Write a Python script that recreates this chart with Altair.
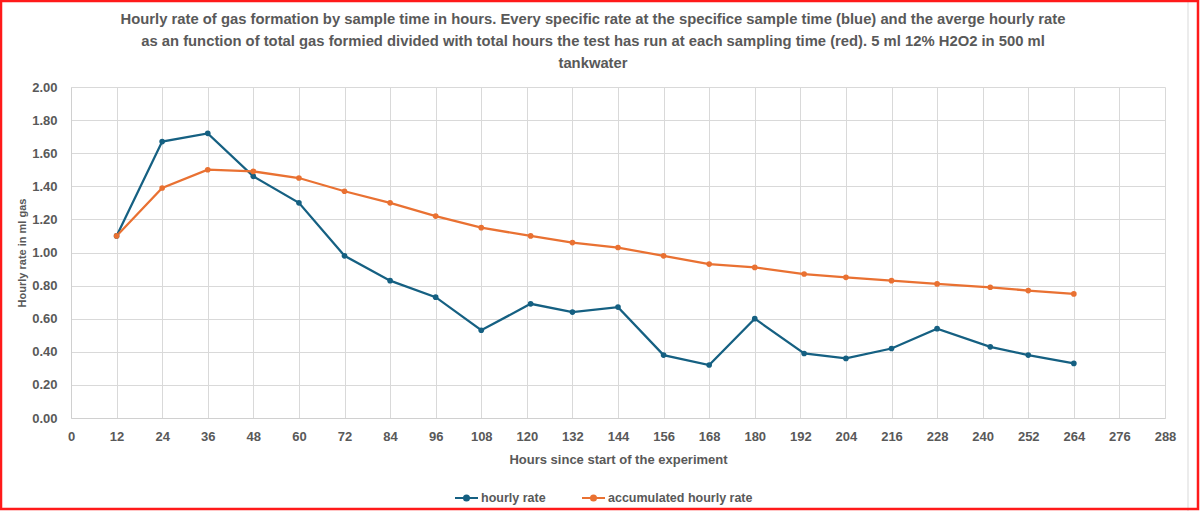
import altair as alt
import pandas as pd

# Sampling times (hours since start)
hours = [12, 24, 36, 48, 60, 72, 84, 96, 108, 121, 132, 144,
         156, 168, 180, 193, 204, 216, 228, 242, 252, 264]

# Specific hourly rate at each sample time (ml gas / h)
hourly_rate = [1.10, 1.67, 1.72, 1.46, 1.30, 0.98, 0.83, 0.73, 0.53, 0.69, 0.64, 0.67,
               0.38, 0.32, 0.60, 0.39, 0.36, 0.42, 0.54, 0.43, 0.38, 0.33]

# Total gas formed divided by total hours run (ml gas / h)
accumulated_rate = [1.10, 1.39, 1.50, 1.49, 1.45, 1.37, 1.30, 1.22, 1.15, 1.10, 1.06, 1.03,
                    0.98, 0.93, 0.91, 0.87, 0.85, 0.83, 0.81, 0.79, 0.77, 0.75]

series_names = ["hourly rate", "accumulated hourly rate"]
series_colors = ["#156082", "#E97132"]

x_ticks = list(range(0, 289, 12))
y_ticks = [0.0, 0.2, 0.4, 0.6, 0.8, 1.0, 1.2, 1.4, 1.6, 1.8, 2.0]

title_lines = [
    "Hourly rate of gas formation by sample time in hours. Every specific rate at the specifice sample time (blue)  and the averge hourly rate",
    "as an function of total gas formied divided with total hours the test has run at each sampling time (red). 5 ml 12% H2O2 in 500 ml",
    "tankwater",
]

df = pd.concat([
    pd.DataFrame({"hours": hours, "rate": hourly_rate, "series": series_names[0]}),
    pd.DataFrame({"hours": hours, "rate": accumulated_rate, "series": series_names[1]}),
])

FONT = "Liberation Sans"
GREY = "#595959"

legend_symbol = "M-1,0L1,0M-0.22,0A0.22,0.22,0,1,1,0.22,0A0.22,0.22,0,1,1,-0.22,0Z"

lines = alt.Chart(df).mark_line(
    strokeWidth=2.25,
    point=alt.OverlayMarkDef(filled=True, size=32),
).encode(
    x=alt.X("hours:Q",
            scale=alt.Scale(domain=[0, 288], nice=False),
            axis=alt.Axis(values=x_ticks, title="Hours since start of the experiment",
                          ticks=False, labelPadding=12, titlePadding=10,
                          labelFlush=False)),
    y=alt.Y("rate:Q",
            scale=alt.Scale(domain=[0, 2], nice=False),
            axis=alt.Axis(values=y_ticks, format=".2f", title="Hourly rate in ml gas",
                          ticks=False, labelPadding=14, titlePadding=4,
                          titleFontSize=11)),
    color=alt.Color("series:N",
                    scale=alt.Scale(domain=series_names, range=series_colors),
                    sort=series_names,
                    legend=alt.Legend(orient="none", legendX=383, legendY=398,
                                      direction="horizontal", title=None,
                                      symbolType=legend_symbol, symbolSize=529,
                                      symbolStrokeWidth=2, columnPadding=32,
                                      labelOffset=2, labelFont=FONT, labelFontSize=12.5,
                                      labelFontWeight="bold", labelColor=GREY)),
    order=alt.Order("hours:Q"),
)

one = pd.DataFrame({"k": [0]})

# Three-line heading above the plot
heading = alt.Chart(one).mark_text(
    font=FONT, fontSize=14.8, fontWeight="bold", color=GREY,
    align="center", baseline="top", lineHeight=22,
).encode(
    x=alt.value(522), y=alt.value(-75), text=alt.value(title_lines)
)

# Chart-area edge on the right and the red outline around the whole figure
chart_edge = alt.Chart(one).mark_rule(color="#d9d9d9", strokeWidth=1).encode(
    x=alt.value(1117), y=alt.value(-87), y2=alt.value(424)
)
outline = alt.Chart(one).mark_rect(fillOpacity=0, stroke="#ff1a1a", strokeWidth=2.5).encode(
    x=alt.value(-70), x2=alt.value(1127), y=alt.value(-86), y2=alt.value(422)
)

chart = alt.layer(lines, heading, chart_edge, outline).properties(
    width=1094,
    height=331,
    autosize=alt.AutoSizeParams(type="none"),
    padding={"left": 71, "top": 87, "right": 35, "bottom": 93},
    background="white",
).configure_view(stroke=None).configure_axis(
    labelFont=FONT, labelFontSize=13, labelFontWeight="bold", labelColor=GREY,
    titleFont=FONT, titleFontSize=13, titleFontWeight="bold", titleColor=GREY,
    gridColor="#d9d9d9", gridWidth=1, domainColor="#d0d0d0", domainWidth=1,
)

chart.save("out.html", embed_options={"renderer": "svg", "actions": False})
